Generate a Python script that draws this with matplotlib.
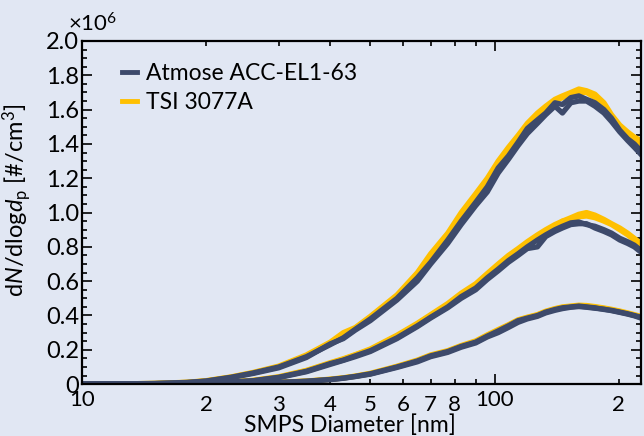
import numpy as np
import matplotlib
matplotlib.use('Agg')
import matplotlib.pyplot as plt
from matplotlib.ticker import FixedLocator

# SMPS bin diameters (nm)
diam = [10, 12, 15, 18, 20, 23, 26, 30, 35, 40, 43, 46, 50, 58, 65, 70, 77, 83,
        90, 96, 102, 108, 114, 120, 127, 133, 140, 146, 153, 160, 167, 175, 184,
        192, 201, 210, 218, 226]

# dN/dlogdp in units of 1e6 #/cm3, two scans per instrument and level
atmose_high_1 = [0.000, 0.001, 0.004, 0.010, 0.018, 0.040, 0.065, 0.100, 0.160, 0.230,
                 0.270, 0.320, 0.380, 0.500, 0.620, 0.710, 0.840, 0.950, 1.060, 1.150,
                 1.260, 1.330, 1.410, 1.490, 1.540, 1.580, 1.640, 1.630, 1.670, 1.680,
                 1.660, 1.640, 1.600, 1.550, 1.480, 1.430, 1.400, 1.360]
atmose_high_2 = [0.000, 0.001, 0.003, 0.009, 0.017, 0.038, 0.062, 0.095, 0.155, 0.235,
                 0.265, 0.315, 0.370, 0.490, 0.600, 0.700, 0.820, 0.930, 1.040, 1.120,
                 1.230, 1.310, 1.390, 1.460, 1.520, 1.570, 1.620, 1.580, 1.640, 1.650,
                 1.650, 1.620, 1.580, 1.530, 1.470, 1.420, 1.380, 1.340]
tsi_high_1 = [0.000, 0.001, 0.004, 0.011, 0.020, 0.042, 0.068, 0.105, 0.170, 0.245,
              0.300, 0.330, 0.395, 0.520, 0.650, 0.760, 0.880, 1.000, 1.110, 1.200,
              1.300, 1.380, 1.450, 1.520, 1.580, 1.620, 1.660, 1.680, 1.700, 1.720,
              1.710, 1.690, 1.640, 1.570, 1.510, 1.470, 1.440, 1.420]
tsi_high_2 = [0.000, 0.001, 0.004, 0.010, 0.019, 0.041, 0.066, 0.102, 0.165, 0.240,
              0.285, 0.325, 0.390, 0.510, 0.640, 0.740, 0.860, 0.980, 1.090, 1.180,
              1.280, 1.360, 1.430, 1.500, 1.560, 1.600, 1.650, 1.670, 1.690, 1.700,
              1.700, 1.670, 1.620, 1.560, 1.500, 1.450, 1.420, 1.400]

atmose_mid_1 = [0.000, 0.000, 0.001, 0.003, 0.006, 0.012, 0.020, 0.040, 0.075, 0.120,
                0.140, 0.165, 0.195, 0.270, 0.340, 0.390, 0.450, 0.510, 0.560, 0.620,
                0.670, 0.720, 0.760, 0.800, 0.840, 0.870, 0.900, 0.920, 0.940, 0.945,
                0.930, 0.920, 0.900, 0.880, 0.850, 0.830, 0.810, 0.780]
atmose_mid_2 = [0.000, 0.000, 0.001, 0.003, 0.006, 0.011, 0.019, 0.038, 0.072, 0.115,
                0.138, 0.160, 0.190, 0.265, 0.335, 0.385, 0.445, 0.500, 0.550, 0.610,
                0.660, 0.710, 0.750, 0.790, 0.800, 0.860, 0.890, 0.910, 0.930, 0.935,
                0.935, 0.910, 0.890, 0.870, 0.840, 0.820, 0.800, 0.770]
tsi_mid_1 = [0.000, 0.000, 0.001, 0.003, 0.007, 0.013, 0.022, 0.043, 0.080, 0.125,
             0.148, 0.172, 0.205, 0.285, 0.355, 0.405, 0.470, 0.530, 0.585, 0.645,
             0.700, 0.750, 0.790, 0.830, 0.870, 0.900, 0.930, 0.950, 0.970, 0.990,
             1.000, 0.985, 0.960, 0.935, 0.910, 0.880, 0.850, 0.820]
tsi_mid_2 = [0.000, 0.000, 0.001, 0.003, 0.006, 0.012, 0.021, 0.041, 0.078, 0.122,
             0.145, 0.170, 0.200, 0.280, 0.350, 0.400, 0.460, 0.520, 0.575, 0.635,
             0.690, 0.740, 0.780, 0.820, 0.860, 0.890, 0.920, 0.950, 0.960, 0.975,
             0.980, 0.970, 0.950, 0.930, 0.900, 0.870, 0.840, 0.800]

atmose_low_1 = [0.000, 0.000, 0.000, 0.001, 0.002, 0.003, 0.005, 0.010, 0.017, 0.027,
                0.035, 0.045, 0.060, 0.100, 0.135, 0.165, 0.190, 0.220, 0.245, 0.280,
                0.310, 0.340, 0.370, 0.385, 0.400, 0.420, 0.435, 0.445, 0.450, 0.455,
                0.450, 0.445, 0.435, 0.430, 0.420, 0.410, 0.400, 0.390]
atmose_low_2 = [0.000, 0.000, 0.000, 0.001, 0.002, 0.003, 0.005, 0.009, 0.016, 0.026,
                0.034, 0.044, 0.058, 0.097, 0.130, 0.160, 0.185, 0.215, 0.240, 0.275,
                0.300, 0.330, 0.360, 0.380, 0.395, 0.415, 0.430, 0.440, 0.448, 0.452,
                0.448, 0.442, 0.437, 0.428, 0.418, 0.408, 0.398, 0.385]
tsi_low_1 = [0.000, 0.000, 0.000, 0.001, 0.002, 0.003, 0.006, 0.011, 0.018, 0.029,
             0.037, 0.047, 0.063, 0.104, 0.140, 0.170, 0.195, 0.225, 0.252, 0.287,
             0.318, 0.346, 0.375, 0.390, 0.405, 0.425, 0.440, 0.450, 0.455, 0.460,
             0.458, 0.452, 0.444, 0.436, 0.426, 0.415, 0.405, 0.395]
tsi_low_2 = [0.000, 0.000, 0.000, 0.001, 0.002, 0.003, 0.005, 0.010, 0.017, 0.028,
             0.036, 0.046, 0.061, 0.102, 0.137, 0.167, 0.192, 0.222, 0.248, 0.283,
             0.314, 0.343, 0.372, 0.388, 0.403, 0.422, 0.438, 0.447, 0.452, 0.456,
             0.455, 0.448, 0.440, 0.432, 0.422, 0.412, 0.402, 0.390]

atmose_scans = [atmose_high_1, atmose_high_2, atmose_mid_1, atmose_mid_2,
                atmose_low_1, atmose_low_2]
tsi_scans = [tsi_high_1, tsi_high_2, tsi_mid_1, tsi_mid_2, tsi_low_1, tsi_low_2]

y_ticks = [0, 0.2, 0.4, 0.6, 0.8, 1.0, 1.2, 1.4, 1.6, 1.8, 2.0]
y_ticklabels = ['0', '0.2', '0.4', '0.6', '0.8', '1.0', '1.2', '1.4', '1.6', '1.8', '2.0']
x_major = [10, 100]
x_minor = [20, 30, 40, 50, 60, 70, 80, 90, 200]
x_minor_labels = ['2', '3', '4', '5', '6', '7', '8', '', '2']

bg = '#E1E7F3'
navy = '#3D4A6B'
yellow = '#FFC000'

plt.rcParams['font.family'] = ['Lato', 'DejaVu Sans']
plt.rcParams['mathtext.fontset'] = 'custom'
plt.rcParams['mathtext.rm'] = 'Lato'
plt.rcParams['mathtext.it'] = 'Lato:style=italic'
plt.rcParams['font.size'] = 16

fig = plt.figure(figsize=(6.44, 4.36), dpi=100, facecolor=bg)
ax = fig.add_axes([0.127, 0.119, 0.868, 0.787], facecolor=bg)

for s in tsi_scans:
    ax.plot(diam, s, color=yellow, lw=3.8, solid_joinstyle='round')
for s in atmose_scans:
    ax.plot(diam, s, color=navy, lw=3.8, solid_joinstyle='round')

ax.plot([], [], color=navy, lw=3.5, label='Atmose ACC-EL1-63')
ax.plot([], [], color=yellow, lw=3.5, label='TSI 3077A')

ax.set_xscale('log')
ax.set_xlim(10, 226)
ax.set_ylim(0, 2.0)

ax.xaxis.set_major_locator(FixedLocator(x_major))
ax.set_xticks(x_major)
ax.set_xticklabels([str(v) for v in x_major])
ax.set_xticks(x_minor, minor=True)
ax.set_xticklabels(x_minor_labels, minor=True)
ax.set_yticks(y_ticks)
ax.set_yticklabels(y_ticklabels)
ax.set_yticks(np.arange(0, 2.001, 0.05), minor=True)

ax.tick_params(which='both', direction='in', top=True, right=True, width=1.2)
ax.tick_params(which='major', length=7, labelsize=17, pad=2)
ax.tick_params(which='minor', length=3.5)
ax.tick_params(axis='x', which='both', labelsize=16)
ax.tick_params(axis='x', which='major', pad=4)
ax.tick_params(axis='x', which='minor', pad=7.5)
for sp in ax.spines.values():
    sp.set_linewidth(1.6)

ax.text(-0.025, 1.015, r'$\times$10$^6$', transform=ax.transAxes, fontsize=16,
        ha='left', va='bottom')

ax.set_xlabel('SMPS Diameter [nm]', fontsize=16.5)
ax.xaxis.set_label_coords(0.48, -0.087)
ax.set_ylabel(r'd$N$/dlog$d_\mathrm{p}$ [#/cm$^3$]', fontsize=17)
ax.yaxis.set_label_coords(-0.085, 0.535)

ax.legend(loc='upper left', bbox_to_anchor=(0.035, 0.995), frameon=False,
          handlelength=0.65, handletextpad=0.4, labelspacing=0.35, fontsize=16.5)

fig.savefig('out.png', dpi=100, facecolor=bg)
